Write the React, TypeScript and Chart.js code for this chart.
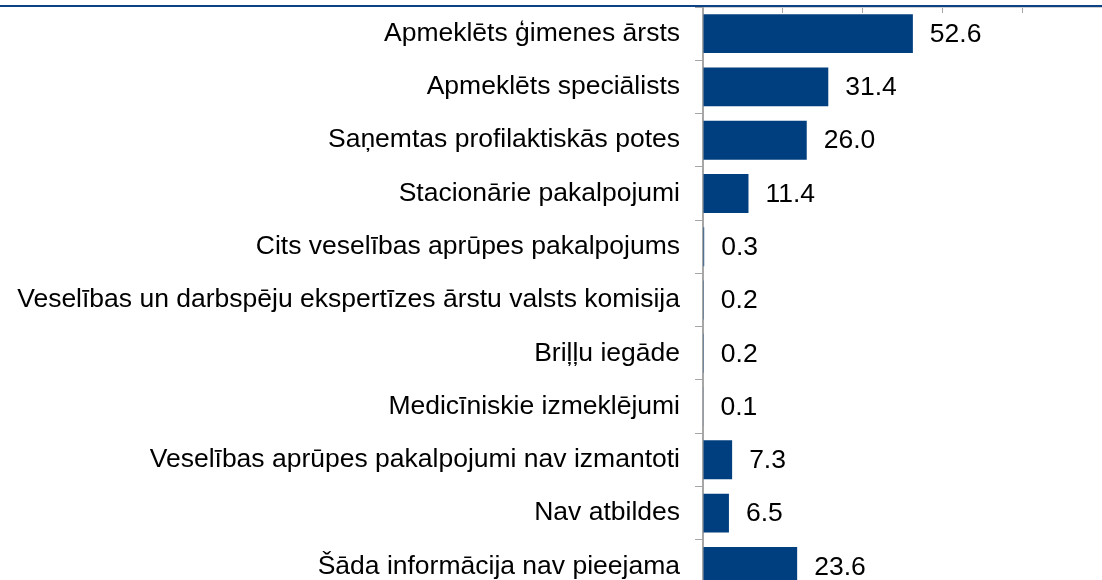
import React, { useEffect, useRef } from "react";
import { Chart, registerables } from "chart.js";

Chart.register(...registerables);

const categories: string[] = [
  "Apmeklēts ģimenes ārsts",
  "Apmeklēts speciālists",
  "Saņemtas profilaktiskās potes",
  "Stacionārie pakalpojumi",
  "Cits veselības aprūpes pakalpojums",
  "Veselības un darbspēju ekspertīzes ārstu valsts komisija",
  "Briļļu iegāde",
  "Medicīniskie izmeklējumi",
  "Veselības aprūpes pakalpojumi nav izmantoti",
  "Nav atbildes",
  "Šāda informācija nav pieejama",
];

const values: number[] = [52.6, 31.4, 26.0, 11.4, 0.3, 0.2, 0.2, 0.1, 7.3, 6.5, 23.6];

const xMin = 0;
const xMax = 100;
const xStep = 20;

const BAR_COLOR = "#003f7f";
const RULE_COLOR = "#0b4286";
const FONT = "'Liberation Sans', Arial, sans-serif";
const FONT_SIZE = 26.5;

const valueLabels = {
  id: "valueLabels",
  afterDatasetsDraw(chart: any) {
    const ctx = chart.ctx;
    const meta = chart.getDatasetMeta(0);
    ctx.save();
    ctx.font = `${FONT_SIZE}px ${FONT}`;
    ctx.fillStyle = "#000000";
    ctx.textAlign = "left";
    ctx.textBaseline = "middle";
    meta.data.forEach((bar: any, i: number) => {
      const v = chart.data.datasets[0].data[i] as number;
      ctx.fillText(v.toFixed(1), bar.x + 17, bar.y + 1);
    });
    ctx.restore();
  },
};

const topRule = {
  id: "topRule",
  afterDraw(chart: any) {
    const ctx = chart.ctx;
    ctx.save();
    ctx.fillStyle = RULE_COLOR;
    ctx.fillRect(0, 5, chart.width, 2);
    ctx.restore();
  },
};

export default function App() {
  const ref = useRef<HTMLCanvasElement | null>(null);

  useEffect(() => {
    if (!ref.current) return;
    const chart = new Chart(ref.current, {
      type: "bar",
      data: {
        labels: categories,
        datasets: [
          {
            data: values,
            backgroundColor: BAR_COLOR,
            borderWidth: 0,
            categoryPercentage: 0.73,
            barPercentage: 1,
          },
        ],
      },
      options: {
        indexAxis: "y",
        animation: false,
        responsive: true,
        maintainAspectRatio: false,
        layout: { padding: { top: 7, bottom: 0, left: 0, right: 0 } },
        plugins: {
          legend: { display: false },
          tooltip: { enabled: false },
          title: { display: false },
        },
        scales: {
          x: {
            position: "top",
            min: xMin,
            max: xMax,
            ticks: { display: false, stepSize: xStep },
            grid: {
              drawOnChartArea: false,
              drawTicks: true,
              tickLength: -6,
              color: "#a6a6a6",
              lineWidth: 1,
            },
            border: { display: true, color: "#d0d0d0", width: 1 },
            afterFit: (scale: any) => {
              scale.height = 0;
              scale.paddingLeft = 0;
              scale.paddingRight = 0;
            },
          },
          y: {
            position: "left",
            ticks: {
              color: "#000000",
              font: { family: FONT, size: FONT_SIZE },
              padding: 15,
              autoSkip: false,
            },
            grid: {
              drawOnChartArea: false,
              drawTicks: true,
              tickLength: 8,
              color: "#a6a6a6",
              lineWidth: 1,
            },
            border: { display: true, color: "#a6a6a6", width: 2 },
            afterFit: (scale: any) => {
              scale.width = 703;
              scale.paddingTop = 0;
              scale.paddingBottom = 0;
            },
          },
        },
      },
      plugins: [valueLabels, topRule],
    });
    return () => chart.destroy();
  }, []);

  return (
    <div
      style={{
        position: "absolute",
        left: 0,
        top: 0,
        width: 1102,
        height: 580,
        overflow: "hidden",
        background: "#ffffff",
      }}
    >
      <div style={{ position: "relative", width: 1102, height: 593 }}>
        <canvas ref={ref} />
      </div>
    </div>
  );
}
